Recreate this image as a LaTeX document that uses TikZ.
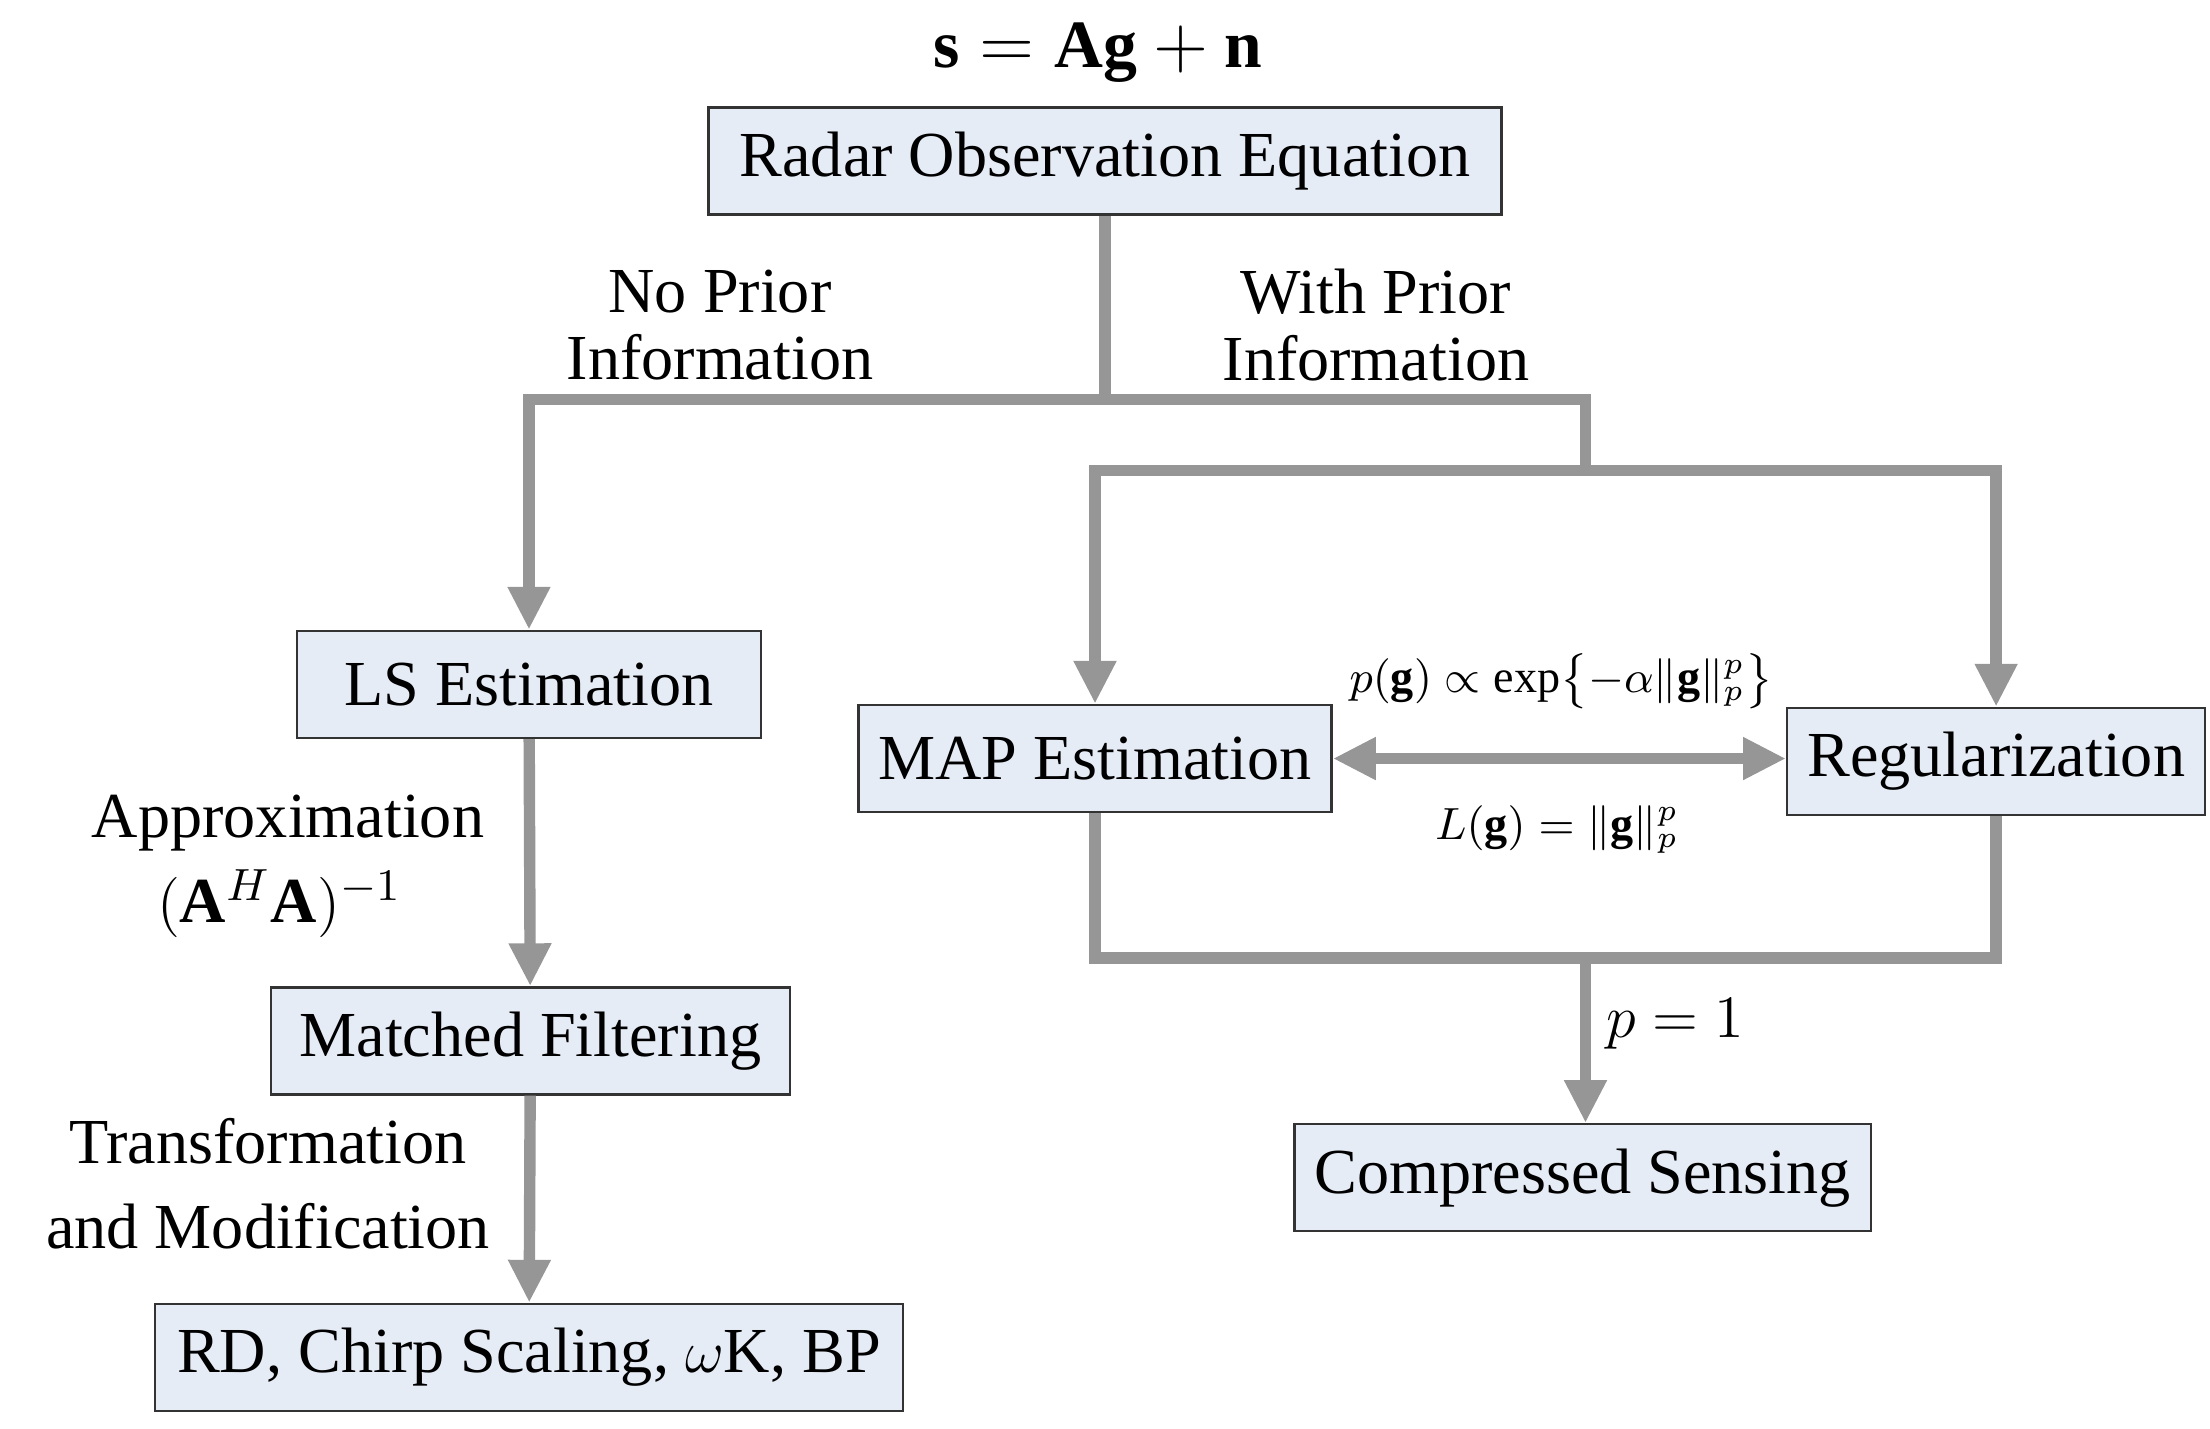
\documentclass[tikz,border=0pt]{standalone}
\usepackage{fontspec}
\usepackage{amsmath,amssymb}
\setmainfont{Liberation Serif}
\usetikzlibrary{arrows.meta}
\definecolor{boxfill}{RGB}{230,236,246}
\definecolor{flowgray}{RGB}{150,150,150}
\begin{document}
\begin{tikzpicture}[x=0.01cm,y=-0.01cm,
  box/.style={draw=black!80,fill=boxfill,line width=0.5pt,minimum height=0.75cm,inner xsep=4pt,font=\fontsize{12.8}{15}\selectfont},
  flow/.style={draw=flowgray,line width=0.08cm},
  arr/.style={flow,-{Triangle[length=0.3cm,width=0.28cm]}},
  darr/.style={flow,{Triangle[length=0.3cm,width=0.28cm]}-{Triangle[length=0.3cm,width=0.28cm]}},
  lbl/.style={align=center,font=\fontsize{12.8}{13.5}\selectfont}]
  \useasboundingbox (0,0) rectangle (1550,1002);

  % boxes
  \node[box,minimum width=5.56cm] (radar) at (775,113) {Radar Observation Equation};
  \node[box,minimum width=3.25cm] (ls) at (371,480) {LS Estimation};
  \node[box,minimum width=3.64cm] (mf) at (372,730) {Matched Filtering};
  \node[box,minimum width=5.24cm] (rd) at (371,952) {RD, Chirp Scaling, $\omega$K, BP};
  \node[box,minimum width=3.25cm] (map) at (768,532) {MAP Estimation};
  \node[box,minimum width=2.89cm] (reg) at (1400,534) {Regularization};
  \node[box,minimum width=3.97cm] (cs) at (1110,826) {Compressed Sensing};

  % junctions
  \coordinate (j1) at (775,280);
  \coordinate (j2) at (1112,330);
  \coordinate (j3) at (1112,672);

  % connectors
  \draw[flow] (radar.south) -- (j1);
  \draw[arr] (j1) -| (ls.north);
  \draw[flow] (j1) -| (j2);
  \draw[arr] (j2) -| (map.north);
  \draw[arr] (j2) -| (reg.north);
  \draw[flow] (map.south) |- (j3);
  \draw[flow] (reg.south) |- (j3);
  \draw[arr] (j3) -- (cs.north -| j3);
  \draw[darr] (map.east) -- (reg.west |- map.east);
  \draw[arr] (ls) -- (mf);
  \draw[arr] (mf) -- (rd);

  % labels
  \node[lbl,font=\fontsize{13.5}{15}\selectfont] (obs) at (770,37) {$\mathbf{s}=\mathbf{Ag}+\mathbf{n}$};
  \node[lbl] (noprior) at (505,228) {No Prior\\Information};
  \node[lbl] (prior) at (965,228) {With Prior\\Information};
  \node[lbl] (approx) at (202,577) {Approximation};
  \node[lbl] (inv) at (196,634) {$(\mathbf{A}^{H}\mathbf{A})^{-1}$};
  \node[lbl,font=\fontsize{12.8}{17}\selectfont] (trans) at (188,830) {Transformation\\and Modification};
  \node[lbl,font=\fontsize{9.2}{11}\selectfont,inner sep=1pt] (prob) at (1095,478) {$p(\mathbf{g})\propto\exp\bigl\{-\alpha\|\mathbf{g}\|_p^p\bigr\}$};
  \node[lbl,font=\fontsize{9.2}{11}\selectfont,inner sep=1pt] (loss) at (1092,582) {$L(\mathbf{g})=\|\mathbf{g}\|_p^p$};
  \node[lbl] (pone) at (1175,718) {$p=1$};
\end{tikzpicture}
\end{document}
